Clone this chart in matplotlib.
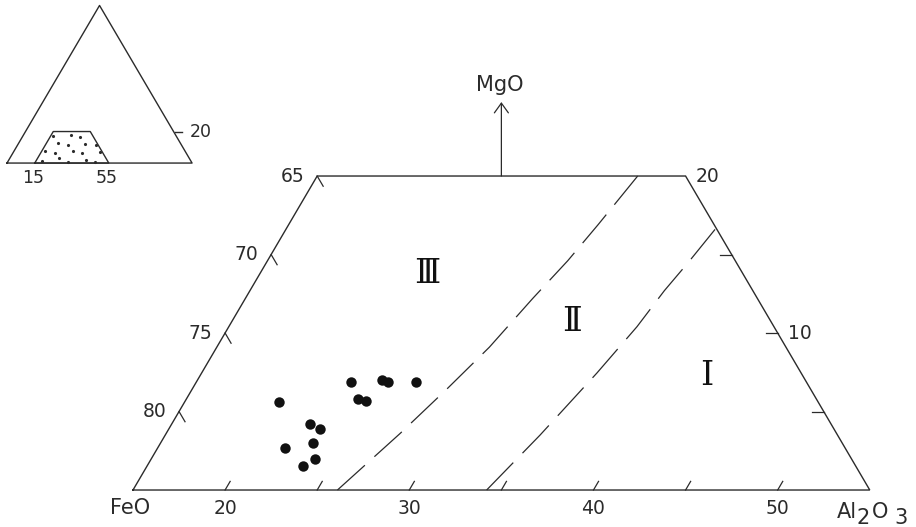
import numpy as np
import matplotlib
matplotlib.use("Agg")
import matplotlib.pyplot as plt

plt.rcParams["font.family"] = ["DejaVu Sans"]
plt.rcParams["lines.scale_dashes"] = False

INK = "#2b2b2b"
SQ3 = np.sqrt(3) / 2

# spinel analyses, wt % (FeO = remainder)
al2o3 = [20.1, 21.9, 23.5, 22.5, 23.2, 23.3, 23.9, 23.4, 24.3, 24.8, 25.0, 25.4, 26.9]
mgo   = [5.6, 2.7, 1.5, 4.2, 3.9, 3.0, 2.0, 6.9, 5.8, 5.7, 7.0, 6.9, 6.9]

# field boundaries II/III and I/II, listed from the upper end down
b23_al = [32.4, 31.8, 31.3, 30.6, 29.8, 28.85, 27.7, 26.1]
b23_mg = [20.0, 16.9, 14.6, 12.2, 9.1, 6.5, 3.6, 0.0]
b12_al = [38.3, 37.9, 37.5, 37.16, 36.46, 35.35, 34.2]
b12_mg = [16.6, 14.5, 12.7, 10.4, 7.45, 3.5, 0.0]

# axis ticks
al_ticks = [20, 25, 30, 35, 40, 45, 50]
al_labels = [20, 30, 40, 50]
feo_ticks = [80, 75, 70, 65]
mgo_ticks = [5, 10, 15]
mgo_labels = [10, 20]

# window of the diagram: Al2O3 15-55, MgO 0-20
win_al = [15, 55, 35, 15, 15]
win_mg = [0, 0, 20, 20, 0]

# stipple of the inset
st_al = [16.4, 25.6, 31.1, 21.5, 27.4, 36.2, 42.4, 16.6, 22.6, 31.6, 37.4, 46.7,
         18.1, 26.8, 32.7, 41.8, 47.2]
st_mg = [17.1, 17.6, 16.7, 12.5, 11.4, 12.0, 11.4, 7.9, 6.6, 7.9, 6.1, 7.2,
         1.5, 3.0, 0.8, 1.8, 0.8]


def xy(al, mg):
    al = np.asarray(al, float)
    mg = np.asarray(mg, float)
    return al + mg / 2, mg * SQ3


def fitted_dashes(ax, x, y, dash=26.0, gap=9.0):
    # stretch the dash pattern so the line starts and ends with a dash
    pts = ax.transData.transform(np.column_stack([x, y]))
    length = np.hypot(*np.diff(pts, axis=0).T).sum() * 72 / ax.figure.dpi
    period = dash + gap
    n = max(1, round((length - dash) / period))
    k = length / (n * period + dash)
    return (0, (dash * k, gap * k))


fig = plt.figure(figsize=(9.16, 5.27), dpi=100)
fig.patch.set_facecolor("white")

# ── main diagram ─────────────────────────────────────────────────────────────
ax = fig.add_axes([0, 0, 1, 1])
ax.set_xlim(7.78, 57.51)
ax.set_ylim(-2.04, 27.03)
ax.axis("off")

x, y = xy(win_al, win_mg)
ax.plot(x, y, color=INK, lw=1.0, solid_joinstyle="miter")

for bal, bmg in [(b23_al, b23_mg), (b12_al, b12_mg)]:
    x, y = xy(bal, bmg)
    ax.plot(x, y, color=INK, lw=0.9, linestyle=fitted_dashes(ax, x, y))

x, y = xy(al2o3, mgo)
ax.plot(x, y, "o", color="#111111", ms=7.5, mec="none")

# Al2O3 ticks (bottom edge)
for a in al_ticks:
    x0, y0 = xy(a, 0)
    ax.plot([x0, x0 + 0.55 * 0.5], [y0, y0 + 0.55 * SQ3], color=INK, lw=0.9)
for a in al_labels:
    x0, y0 = xy(a, 0)
    ax.text(x0, -1.0, str(a), ha="center", va="center", fontsize=13.5, color=INK)

# FeO ticks (left edge, Al2O3 = 15)
for f in feo_ticks:
    m = 100 - 15 - f
    x0, y0 = xy(15, m)
    ax.plot([x0, x0 + 0.65 * 0.5], [y0, y0 - 0.65 * SQ3], color=INK, lw=0.9)
    ax.text(x0 - 0.7, y0, str(f), ha="right", va="center", fontsize=13.5, color=INK)

# MgO ticks (right edge, FeO = 45)
for m in mgo_ticks:
    x0, y0 = xy(55 - m, m)
    ax.plot([x0, x0 - 0.65], [y0, y0], color=INK, lw=0.9)
for m in mgo_labels:
    x0, y0 = xy(55 - m, m)
    ax.text(x0 + 0.55, y0, str(m), ha="left", va="center", fontsize=13.5, color=INK)

# corner labels
x0, y0 = xy(15, 0)
ax.text(x0 - 1.25, -1.0, "FeO", ha="left", va="center", fontsize=15, color=INK)

x0, y0 = xy(55, 0)
for s, dx, dy in [("Al", -23.8, -20.2), ("2", -9.4, -24.8),
                  ("O", 1.4, -20.2), ("3", 18.0, -24.8)]:
    ax.annotate(s, xy=(x0, y0), xytext=(dx, dy), textcoords="offset points",
                ha="left", va="baseline", fontsize=15, color=INK)

# MgO pointer
x0, y0 = xy(25, 20)
ax.annotate("", xy=(x0, 21.4), xytext=(x0, y0),
            arrowprops=dict(arrowstyle="->,head_length=0.5,head_width=0.36",
                            color=INK, lw=0.9, mutation_scale=14, shrinkA=0, shrinkB=0))
ax.text(x0 - 0.1, 22.34, "MgO", ha="center", va="center", fontsize=15, color=INK)

# field numbers
for txt, px, py in [("Ⅲ", 30.96, 11.91), ("Ⅱ", 38.83, 9.27), ("Ⅰ", 46.16, 6.29)]:
    ax.text(px, py, txt, ha="center", va="center", fontsize=24,
            family="DejaVu Serif", color="#111111")

# ── inset: position of the window in the full triangle ───────────────────────
ins = fig.add_axes([0, 0.6205, 0.2511, 0.3795])
ins.set_xlim(-3.78, 120.5)
ins.set_ylim(-20.3, 89.6)
ins.axis("off")

x, y = xy([0, 100, 0, 0], [0, 0, 100, 0])
ins.plot(x, y, color=INK, lw=1.0)
x, y = xy(win_al, win_mg)
ins.plot(x, y, color=INK, lw=1.0)
x, y = xy(st_al, st_mg)
ins.plot(x, y, ".", color=INK, ms=2.5)

x0, y0 = xy(80, 20)
ins.plot([x0 + 1.0, x0 + 4.5], [y0, y0], color=INK, lw=1.0)
ins.text(x0 + 9.0, y0, "20", ha="left", va="center", fontsize=12.5, color=INK)
for a in [15, 55]:
    x0, y0 = xy(a, 0)
    ins.text(x0 - 1, -8.2, str(a), ha="center", va="center", fontsize=12.5, color=INK)

fig.savefig("out.png", dpi=100, facecolor="white")
